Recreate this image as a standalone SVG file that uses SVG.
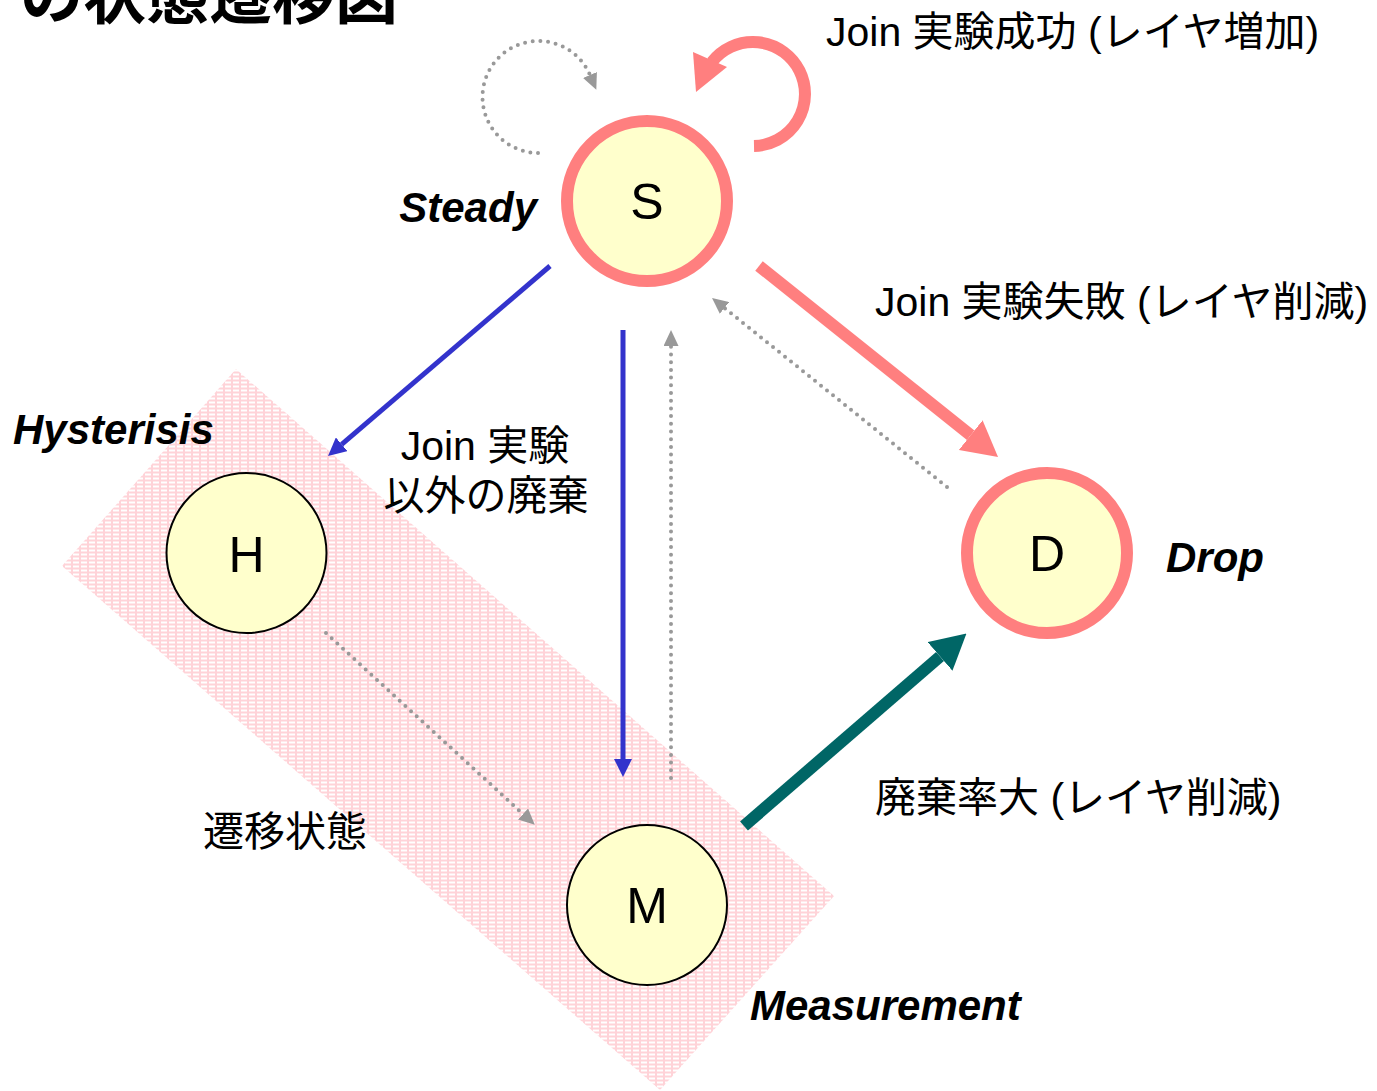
<svg xmlns="http://www.w3.org/2000/svg" width="1377" height="1091" viewBox="0 0 1377 1091">
<style>
.lbl{font-family:"Liberation Sans","Noto Sans CJK JP",sans-serif;font-size:41px;fill:#000}
.state{font-family:"Liberation Sans",Arial,sans-serif;font-size:42px;font-weight:bold;font-style:italic;fill:#000}
.letter{font-family:"Liberation Sans",Arial,sans-serif;font-size:50px;fill:#000;text-anchor:middle}
.title{font-family:"Noto Sans CJK JP",sans-serif;font-size:63px;font-weight:bold;fill:#000}
.ring{fill:#FFFFCC;stroke:#FF7F7F;stroke-width:12}
.plain{fill:#FFFFCC;stroke:#000;stroke-width:2}
.blue{stroke:#3333CC;stroke-width:5;fill:none}
.dot{stroke:#999;stroke-width:4;fill:none;stroke-dasharray:0 7.7;stroke-linecap:round}
.pink{stroke:#FF7F7F;stroke-width:12;fill:none}
.teal{stroke:#006666;stroke-width:12;fill:none}
</style>
<defs>
<pattern id="band" width="8" height="4" patternUnits="userSpaceOnUse">
<rect width="8" height="4" fill="#FFD3D8"/>
<rect x="1" y="1.5" width="6" height="2" fill="#FFFFFF"/>
</pattern>
<marker id="hBlue" markerUnits="userSpaceOnUse" markerWidth="18" markerHeight="18" refX="0" refY="9" orient="auto">
<path d="M0,0 L18,9 L0,18 z" fill="#3333CC"/>
</marker>
<marker id="hGray" markerUnits="userSpaceOnUse" markerWidth="16" markerHeight="15" refX="0" refY="7.5" orient="auto">
<path d="M0,0 L16,7.5 L0,15 z" fill="#999"/>
</marker>
<marker id="hPink" markerUnits="userSpaceOnUse" markerWidth="35" markerHeight="38" refX="0" refY="19" orient="auto">
<path d="M0,0 L35,19 L0,38 z" fill="#FF7F7F"/>
</marker>
<marker id="hTeal" markerUnits="userSpaceOnUse" markerWidth="35" markerHeight="38" refX="0" refY="19" orient="auto">
<path d="M0,0 L35,19 L0,38 z" fill="#006666"/>
</marker>
</defs>
<rect width="1377" height="1091" fill="#FFFFFF"/>
<text class="title" x="20" y="18">の状態遷移図</text>
<polygon id="hysteresis-band" points="236,369 834,896 660,1090 62,566" fill="url(#band)"/>
<g id="connectors">
<line class="blue" x1="550" y1="266" x2="341.7" y2="444.3" marker-end="url(#hBlue)"/>
<line class="blue" x1="623" y1="330" x2="623" y2="759" marker-end="url(#hBlue)"/>
<line class="dot" x1="671" y1="778" x2="671" y2="346" marker-end="url(#hGray)"/>
<line class="dot" x1="947" y1="487" x2="724.5" y2="308" marker-end="url(#hGray)"/>
<line class="dot" x1="326" y1="633" x2="523" y2="814" marker-end="url(#hGray)"/>
<path class="dot" d="M538,153 A56,56 0 1 1 590,75" marker-end="url(#hGray)"/>
<line class="pink" x1="759" y1="266" x2="970.7" y2="435.2" marker-end="url(#hPink)"/>
<line class="teal" x1="744" y1="826" x2="940" y2="656.5" marker-end="url(#hTeal)"/>
<path class="pink" d="M754,146 A52,52 0 1 0 712,62"/>
<polygon points="693,52 727,67 696,92" fill="#FF7F7F"/>
</g>
<g id="node-S">
<circle class="ring" cx="647" cy="201" r="80"/>
<text class="letter" x="647" y="219">S</text>
</g>
<g id="node-D">
<circle class="ring" cx="1047" cy="553" r="80"/>
<text class="letter" x="1047" y="571">D</text>
</g>
<g id="node-H">
<circle class="plain" cx="246.5" cy="553" r="80"/>
<text class="letter" x="246.5" y="572">H</text>
</g>
<g id="node-M">
<circle class="plain" cx="647" cy="905" r="80"/>
<text class="letter" x="647" y="923">M</text>
</g>
<g id="labels">
<text class="state" x="537" y="222" text-anchor="end">Steady</text>
<text class="state" x="13" y="444">Hysterisis</text>
<text class="state" x="1166" y="572">Drop</text>
<text class="state" x="750" y="1020">Measurement</text>
<text class="lbl" x="826" y="46">Join 実験成功 (レイヤ増加)</text>
<text class="lbl" x="875" y="316">Join 実験失敗 (レイヤ削減)</text>
<text class="lbl" x="485" y="460" text-anchor="middle">Join 実験</text>
<text class="lbl" x="486" y="510" text-anchor="middle">以外の廃棄</text>
<text class="lbl" x="203" y="846">遷移状態</text>
<text class="lbl" x="875" y="812">廃棄率大 (レイヤ削減)</text>
</g>
</svg>
